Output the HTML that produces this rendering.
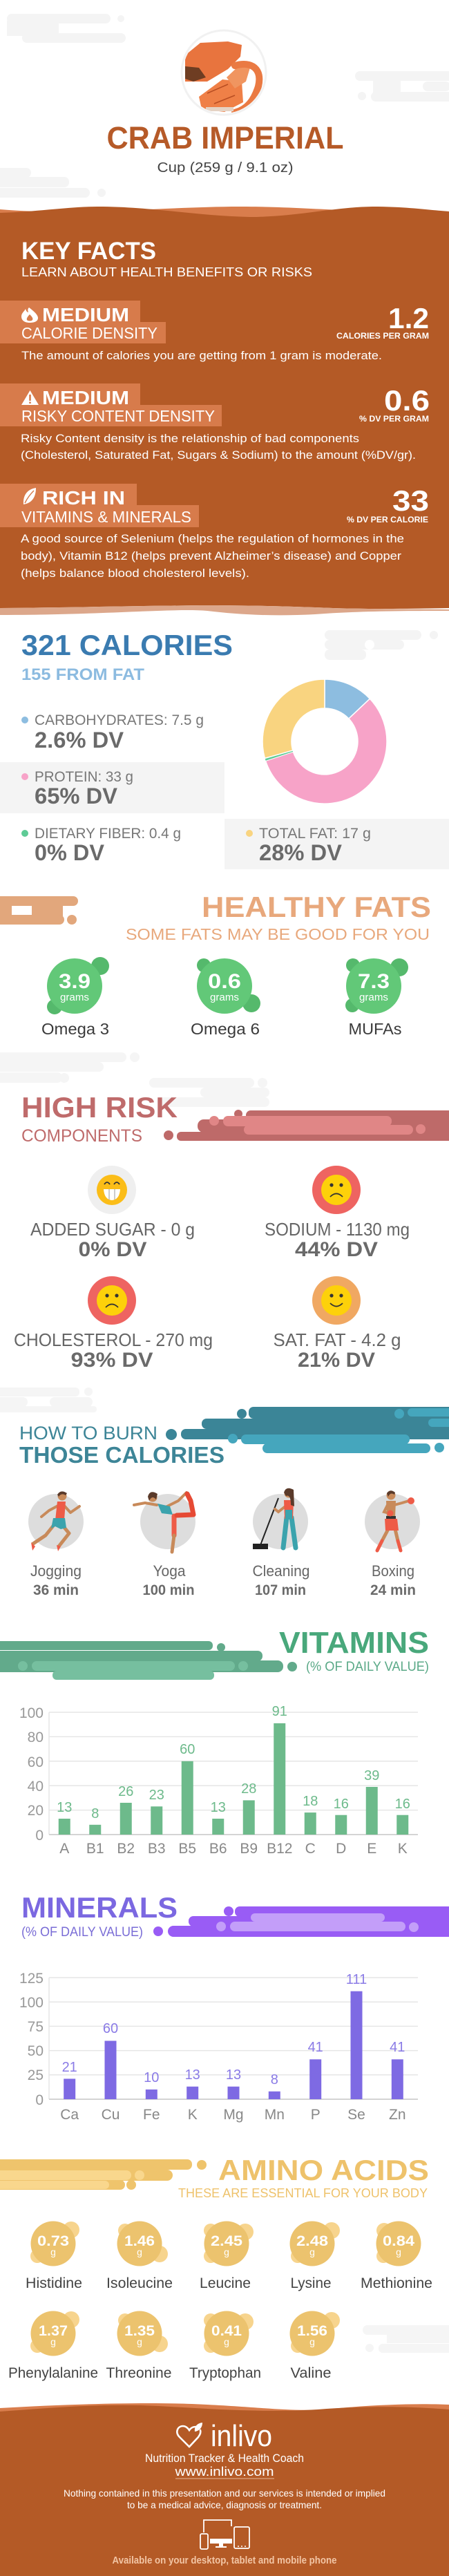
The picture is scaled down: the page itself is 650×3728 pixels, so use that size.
<!DOCTYPE html>
<html><head><meta charset="utf-8"><style>
html,body{margin:0;padding:0;background:#fff;}
svg{display:block;}
text{font-family:"Liberation Sans",Arial,sans-serif;}
.b{font-weight:bold;}
</style></head><body>
<svg width="650" height="3728" viewBox="0 0 650 3728" xmlns="http://www.w3.org/2000/svg">
<defs><clipPath id="crabclip"><circle cx="324" cy="105" r="59"/></clipPath></defs>
<rect width="650" height="3728" fill="#fff"/>

<!-- header clouds -->
<g fill="#f4f4f4">
<rect x="10" y="20" width="150" height="14" rx="7"/><circle cx="175" cy="27" r="5"/>
<rect x="10" y="30" width="75" height="22"/><rect x="32" y="48" width="150" height="14" rx="7"/>
<rect x="514" y="103" width="150" height="14" rx="7"/><rect x="540" y="114" width="40" height="20"/>
<rect x="612" y="118" width="40" height="14" rx="7"/><rect x="537" y="133" width="120" height="14" rx="7"/><circle cx="524" cy="139" r="6"/>
<rect x="-10" y="243" width="55" height="14" rx="7"/><rect x="-10" y="256" width="110" height="15" rx="7"/><rect x="-10" y="272" width="140" height="14" rx="7"/><circle cx="147" cy="279" r="6"/>
</g>

<!-- crab -->
<circle cx="324" cy="105" r="61" fill="#fff" stroke="#f1f1f1" stroke-width="3"/>
<g clip-path="url(#crabclip)">
<polygon points="268,80 290,62 330,60 350,65 348,82 330,100 300,118 268,118" fill="#e8743e"/>
<polygon points="268,96 288,98 298,112 280,118 268,114" fill="#6e3d22"/>
<polygon points="288,140 322,115 350,118 352,148 325,162 292,158" fill="#ef8047"/>
<polygon points="328,112 345,96 362,98 356,118 340,128" fill="#f09560"/>
<path d="M340,95 C365,88 380,100 374,125 C368,145 358,158 340,163" fill="none" stroke="#ea7a43" stroke-width="10" stroke-linecap="round"/>
<path d="M300,135 L330,122 M310,150 L340,138" stroke="#b84d22" stroke-width="1.5"/>
<rect x="298" y="155" width="40" height="6" fill="#e5d3c4"/>
</g>

<text x="326" y="215" class="b" font-size="45" fill="#b65a28" text-anchor="middle" textLength="343" lengthAdjust="spacingAndGlyphs">CRAB IMPERIAL</text>
<text x="326" y="249" font-size="20" fill="#444" text-anchor="middle" textLength="197" lengthAdjust="spacingAndGlyphs">Cup (259 g / 9.1 oz)</text>

<!-- brown key facts block -->
<path d="M0,303 C120,313 250,298 357,299 C450,300 480,306 560,304 L650,306 L650,330 L0,330 Z" fill="#d97d4c"/>
<path d="M0,308 C60,306 100,299 141,299 C220,299 280,312 361,314 C430,314 480,300 539,299 C590,299 620,304 650,306 L650,880 C600,881 520,882 456,879 C400,877 350,876 290,876 C200,877 100,879 0,880 Z" fill="#b45a26"/>
<path d="M0,880 C100,879 200,877 290,876 C350,876 400,877 456,879 C520,882 600,881 650,882 L650,884 C600,884 520,884 456,889 C400,892 350,890 300,884 C250,880 150,890 0,890 Z" fill="#dca78b"/>

<text x="31" y="375" class="b" font-size="35" fill="#fff" textLength="195" lengthAdjust="spacingAndGlyphs">KEY FACTS</text>
<text x="31" y="400" font-size="18.5" fill="#fff" textLength="421" lengthAdjust="spacingAndGlyphs">LEARN ABOUT HEALTH BENEFITS OR RISKS</text>

<!-- fact 1 -->
<rect x="0" y="435" width="203" height="32" fill="#d77b4b"/>
<rect x="0" y="466" width="240" height="31" fill="#d77b4b"/>
<path d="M42,445 C50,451 55,456 55,460 C55,465 50,467 43,467 C36,467 31,464 31,458 C31,453 35,451 37,447 C38,451 40,452 41,452 C40,449 40,447 42,445 Z" fill="#fff"/>
<path d="M43,455 C47,459 48,461 47,463 C46,465 40,465 39,463 C38,461 40,458 43,455 Z" fill="#d77b4b"/>
<text x="61" y="465" class="b" font-size="28" fill="#fff" textLength="126" lengthAdjust="spacingAndGlyphs">MEDIUM</text>
<text x="31" y="490" font-size="23" fill="#fff" textLength="197" lengthAdjust="spacingAndGlyphs">CALORIE DENSITY</text>
<text x="621" y="475" class="b" font-size="42" fill="#fff" text-anchor="end" textLength="59" lengthAdjust="spacingAndGlyphs">1.2</text>
<text x="621" y="490" class="b" font-size="12" fill="#fff" text-anchor="end" textLength="134" lengthAdjust="spacingAndGlyphs">CALORIES PER GRAM</text>
<text x="31" y="520" font-size="16.5" fill="#fff" textLength="522" lengthAdjust="spacingAndGlyphs">The amount of calories you are getting from 1 gram is moderate.</text>

<!-- fact 2 -->
<rect x="0" y="555" width="203" height="32" fill="#d77b4b"/>
<rect x="0" y="586" width="321" height="31" fill="#d77b4b"/>
<path d="M43.5,565 L56,586 L31,586 Z" fill="#fff"/>
<rect x="42.2" y="571" width="2.6" height="9" fill="#d77b4b"/><rect x="42.2" y="581.5" width="2.6" height="2.5" fill="#d77b4b"/>
<text x="61" y="585" class="b" font-size="28" fill="#fff" textLength="126" lengthAdjust="spacingAndGlyphs">MEDIUM</text>
<text x="31" y="610" font-size="23" fill="#fff" textLength="280" lengthAdjust="spacingAndGlyphs">RISKY CONTENT DENSITY</text>
<text x="622" y="594" class="b" font-size="42" fill="#fff" text-anchor="end" textLength="66" lengthAdjust="spacingAndGlyphs">0.6</text>
<text x="621" y="610" class="b" font-size="12" fill="#fff" text-anchor="end" textLength="101" lengthAdjust="spacingAndGlyphs">% DV PER GRAM</text>
<text x="30" y="640" font-size="16.5" fill="#fff" textLength="490" lengthAdjust="spacingAndGlyphs">Risky Content density is the relationship of bad components</text>
<text x="30" y="664" font-size="16.5" fill="#fff" textLength="572" lengthAdjust="spacingAndGlyphs">(Cholesterol, Saturated Fat, Sugars &amp; Sodium) to the amount (%DV/gr).</text>

<!-- fact 3 -->
<rect x="0" y="700" width="198" height="32" fill="#d77b4b"/>
<rect x="0" y="731" width="288" height="32" fill="#d77b4b"/>
<path d="M52,706 C40,708 33,716 34,730 C46,728 52,720 52,706 Z" fill="#fff"/>
<path d="M36,728 C40,720 44,715 49,710" stroke="#d77b4b" stroke-width="1.5" fill="none"/>
<text x="61" y="730" class="b" font-size="28" fill="#fff" textLength="120" lengthAdjust="spacingAndGlyphs">RICH  IN</text>
<text x="31" y="756" font-size="23" fill="#fff" textLength="246" lengthAdjust="spacingAndGlyphs">VITAMINS &amp; MINERALS</text>
<text x="621" y="739" class="b" font-size="42" fill="#fff" text-anchor="end" textLength="53" lengthAdjust="spacingAndGlyphs">33</text>
<text x="620" y="756" class="b" font-size="12" fill="#fff" text-anchor="end" textLength="118" lengthAdjust="spacingAndGlyphs">% DV PER CALORIE</text>
<text x="30" y="785" font-size="16.5" fill="#fff" textLength="555" lengthAdjust="spacingAndGlyphs">A good source of Selenium (helps the regulation of hormones in the</text>
<text x="30" y="810" font-size="16.5" fill="#fff" textLength="551" lengthAdjust="spacingAndGlyphs">body), Vitamin B12 (helps prevent Alzheimer’s disease) and Copper</text>
<text x="30" y="835" font-size="16.5" fill="#fff" textLength="331" lengthAdjust="spacingAndGlyphs">(helps balance blood cholesterol levels).</text>

<!-- calories -->
<g fill="#f4f4f4">
<rect x="470" y="912" width="140" height="14" rx="7"/><circle cx="628" cy="919" r="6"/>
<rect x="470" y="926" width="115" height="14" rx="7"/><rect x="470" y="940" width="60" height="15" rx="7"/>
</g>
<circle cx="535" cy="933" r="7" fill="#fff"/>
<text x="31" y="948" class="b" font-size="42" fill="#3a7bb0" textLength="306" lengthAdjust="spacingAndGlyphs">321 CALORIES</text>
<text x="31" y="984" class="b" font-size="24" fill="#8cbbe0" textLength="178" lengthAdjust="spacingAndGlyphs">155 FROM FAT</text>

<g stroke="#fff" stroke-width="1.5">
<path d="M470,983 A90,90 0 0 1 535.4,1011.2 L504.9,1040.0 A48,48 0 0 0 470,1025 Z" fill="#8dbde0"/>
<path d="M535.4,1011.2 A90,90 0 1 1 384.5,1101.1 L424.4,1088.0 A48,48 0 1 0 504.9,1040.0 Z" fill="#f7a3c8"/>
<path d="M384.5,1101.1 A90,90 0 0 1 383.4,1097.4 L423.8,1086.0 A48,48 0 0 0 424.4,1088.0 Z" fill="#5ecb96" stroke-width="0.5"/>
<path d="M383.4,1097.4 A90,90 0 0 1 470,983 L470,1025 A48,48 0 0 0 423.8,1086.0 Z" fill="#f9d480"/>
</g>

<rect x="0" y="1103" width="325" height="74" fill="#f4f4f4"/>
<rect x="325" y="1185" width="325" height="73" fill="#f4f4f4"/>
<circle cx="36" cy="1042" r="5" fill="#8dbde0"/>
<text x="50" y="1049" font-size="21" fill="#777" textLength="245" lengthAdjust="spacingAndGlyphs">CARBOHYDRATES: 7.5 g</text>
<text x="50" y="1082" class="b" font-size="32" fill="#6a6a6a" textLength="129" lengthAdjust="spacingAndGlyphs">2.6% DV</text>
<circle cx="36" cy="1124" r="5" fill="#f7a3c8"/>
<text x="50" y="1131" font-size="21" fill="#777" textLength="143" lengthAdjust="spacingAndGlyphs">PROTEIN: 33 g</text>
<text x="50" y="1163" class="b" font-size="32" fill="#6a6a6a" textLength="120" lengthAdjust="spacingAndGlyphs">65% DV</text>
<circle cx="36" cy="1206" r="5" fill="#5ecb96"/>
<text x="50" y="1213" font-size="21" fill="#777" textLength="212" lengthAdjust="spacingAndGlyphs">DIETARY FIBER: 0.4 g</text>
<text x="50" y="1245" class="b" font-size="32" fill="#6a6a6a" textLength="101" lengthAdjust="spacingAndGlyphs">0% DV</text>
<circle cx="361" cy="1206" r="5" fill="#f9d480"/>
<text x="375" y="1213" font-size="21" fill="#777" textLength="162" lengthAdjust="spacingAndGlyphs">TOTAL FAT: 17 g</text>
<text x="375" y="1245" class="b" font-size="32" fill="#6a6a6a" textLength="120" lengthAdjust="spacingAndGlyphs">28% DV</text>

<!-- healthy fats -->
<g fill="#e2a77c">
<rect x="-10" y="1297" width="123" height="14" rx="7"/><rect x="0" y="1308" width="17" height="18"/>
<rect x="46" y="1308" width="45" height="18"/><rect x="-10" y="1324" width="103" height="14" rx="7"/><circle cx="104" cy="1331" r="7"/>
</g>
<text x="624" y="1327" class="b" font-size="42" fill="#e8a87c" text-anchor="end" textLength="332" lengthAdjust="spacingAndGlyphs">HEALTHY FATS</text>
<text x="622" y="1360" font-size="23" fill="#e8a87c" text-anchor="end" textLength="440" lengthAdjust="spacingAndGlyphs">SOME FATS MAY BE GOOD FOR YOU</text>

<g fill="#55b96c">
<circle cx="145" cy="1398" r="13"/><circle cx="79" cy="1457" r="11"/>
<circle cx="295" cy="1397" r="10"/><circle cx="364" cy="1452" r="13"/>
<circle cx="511" cy="1397" r="10"/><circle cx="578" cy="1400" r="13"/><circle cx="510" cy="1455" r="10"/>
</g>
<g fill="#62c878">
<circle cx="108" cy="1427" r="40"/><circle cx="325" cy="1427" r="40"/><circle cx="541" cy="1427" r="40"/>
</g>
<g fill="#fff" text-anchor="middle">
<text x="108" y="1430" class="b" font-size="30" textLength="46" lengthAdjust="spacingAndGlyphs">3.9</text>
<text x="108" y="1448" font-size="15" textLength="42" lengthAdjust="spacingAndGlyphs">grams</text>
<text x="325" y="1430" class="b" font-size="30" textLength="48" lengthAdjust="spacingAndGlyphs">0.6</text>
<text x="325" y="1448" font-size="15" textLength="42" lengthAdjust="spacingAndGlyphs">grams</text>
<text x="541" y="1430" class="b" font-size="30" textLength="46" lengthAdjust="spacingAndGlyphs">7.3</text>
<text x="541" y="1448" font-size="15" textLength="42" lengthAdjust="spacingAndGlyphs">grams</text>
</g>
<g fill="#3a3a3a" text-anchor="middle" font-size="23">
<text x="109" y="1497" textLength="98" lengthAdjust="spacingAndGlyphs">Omega 3</text>
<text x="326" y="1497" textLength="100" lengthAdjust="spacingAndGlyphs">Omega 6</text>
<text x="543" y="1497" textLength="77" lengthAdjust="spacingAndGlyphs">MUFAs</text>
</g>

<!-- high risk -->
<g fill="#f5f5f5">
<rect x="-10" y="1523" width="193" height="14" rx="7"/><circle cx="195" cy="1530" r="7"/>
<rect x="-10" y="1537" width="160" height="14" rx="7"/><rect x="-10" y="1552" width="100" height="15" rx="7"/><circle cx="93" cy="1560" r="7"/>
<rect x="216" y="1560" width="152" height="14" rx="7"/><circle cx="380" cy="1567" r="7"/>
<rect x="290" y="1574" width="100" height="14" rx="7"/><rect x="230" y="1588" width="160" height="14" rx="7"/>
</g>
<g fill="#be6a69">
<rect x="356" y="1607" width="310" height="14" rx="7"/><circle cx="345" cy="1612" r="6"/>
<rect x="286" y="1620" width="380" height="19" rx="9"/><rect x="256" y="1638" width="410" height="13" rx="6"/>
<circle cx="244" cy="1643" r="7"/>
</g>
<g fill="#e08686">
<rect x="323" y="1615" width="244" height="15" rx="7"/><circle cx="310" cy="1622" r="7"/>
<rect x="353" y="1628" width="245" height="14" rx="7"/><circle cx="609" cy="1634" r="7"/>
</g>
<text x="31" y="1617" class="b" font-size="42" fill="#bf6b6b" textLength="226" lengthAdjust="spacingAndGlyphs">HIGH RISK</text>
<text x="31" y="1652" font-size="25" fill="#bf6b6b" textLength="175" lengthAdjust="spacingAndGlyphs">COMPONENTS</text>

<!-- smileys -->
<circle cx="162" cy="1722" r="35" fill="#efefef"/>
<circle cx="162" cy="1722" r="22" fill="#fbbd18"/>
<path d="M151,1714 Q155,1708 159,1714 M165,1714 Q169,1708 173,1714" stroke="#333" stroke-width="1.8" fill="none"/>
<path d="M150,1721 L174,1721 Q173,1736 162,1737 Q151,1736 150,1721 Z" fill="#fff"/>
<path d="M158,1721 L158,1736 M166,1721 L166,1736" stroke="#bbb" stroke-width="1.5"/>

<circle cx="487" cy="1722" r="35" fill="#ee6461"/>
<circle cx="487" cy="1722" r="22" fill="#fdd10a"/>
<circle cx="480" cy="1715" r="2.6" fill="#333"/><circle cx="494" cy="1715" r="2.6" fill="#333"/>
<path d="M478,1732 Q487,1723 496,1732" stroke="#333" stroke-width="1.8" fill="none"/>

<circle cx="162" cy="1882" r="35" fill="#ee6461"/>
<circle cx="162" cy="1882" r="22" fill="#fdd10a"/>
<circle cx="155" cy="1875" r="2.6" fill="#333"/><circle cx="169" cy="1875" r="2.6" fill="#333"/>
<path d="M153,1892 Q162,1883 171,1892" stroke="#333" stroke-width="1.8" fill="none"/>

<circle cx="487" cy="1882" r="35" fill="#f0a862"/>
<circle cx="487" cy="1882" r="22" fill="#fdd10a"/>
<circle cx="480" cy="1875" r="2.6" fill="#333"/><circle cx="494" cy="1875" r="2.6" fill="#333"/>
<path d="M478,1886 Q487,1895 496,1886" stroke="#333" stroke-width="1.8" fill="none"/>

<g text-anchor="middle">
<text x="163" y="1788" font-size="26" fill="#666" textLength="238" lengthAdjust="spacingAndGlyphs">ADDED SUGAR - 0 g</text>
<text x="163" y="1818" class="b" font-size="30" fill="#6a6a6a" textLength="99" lengthAdjust="spacingAndGlyphs">0% DV</text>
<text x="488" y="1788" font-size="26" fill="#666" textLength="210" lengthAdjust="spacingAndGlyphs">SODIUM - 1130 mg</text>
<text x="487" y="1818" class="b" font-size="30" fill="#6a6a6a" textLength="120" lengthAdjust="spacingAndGlyphs">44% DV</text>
<text x="164" y="1948" font-size="26" fill="#666" textLength="288" lengthAdjust="spacingAndGlyphs">CHOLESTEROL - 270 mg</text>
<text x="162" y="1978" class="b" font-size="30" fill="#6a6a6a" textLength="119" lengthAdjust="spacingAndGlyphs">93% DV</text>
<text x="488" y="1948" font-size="26" fill="#666" textLength="185" lengthAdjust="spacingAndGlyphs">SAT. FAT - 4.2 g</text>
<text x="487" y="1978" class="b" font-size="30" fill="#6a6a6a" textLength="112" lengthAdjust="spacingAndGlyphs">21% DV</text>
</g>

<g fill="#f5f5f5">
<rect x="-10" y="2008" width="125" height="13" rx="6"/><circle cx="128" cy="2014" r="6"/>
<rect x="-10" y="2022" width="50" height="14" rx="7"/><rect x="72" y="2022" width="62" height="14" rx="7"/>
<rect x="-10" y="2035" width="150" height="9" rx="4"/>
</g>

<!-- burn calories -->
<g fill="#3b8597">
<circle cx="350" cy="2046" r="7"/><rect x="360" y="2036" width="300" height="17" rx="7"/>
<rect x="292" y="2053" width="370" height="15" rx="7"/><rect x="262" y="2068" width="400" height="15" rx="7"/>
<circle cx="248" cy="2076" r="8"/>
</g>
<g fill="#45a6bd">
<circle cx="578" cy="2046" r="7"/><rect x="590" y="2038" width="70" height="12" rx="6"/>
<rect x="620" y="2053" width="40" height="12" rx="6"/>
<circle cx="337" cy="2082" r="7"/><rect x="349" y="2076" width="244" height="14" rx="7"/>
<rect x="380" y="2089" width="243" height="14" rx="7"/><circle cx="636" cy="2095" r="7"/>
</g>
<text x="28" y="2083" font-size="27" fill="#3d8597" textLength="200" lengthAdjust="spacingAndGlyphs">HOW TO BURN</text>
<text x="28" y="2117" class="b" font-size="33" fill="#3d8597" textLength="297" lengthAdjust="spacingAndGlyphs">THOSE CALORIES</text>

<g fill="#dddddd">
<circle cx="81" cy="2202" r="40"/><circle cx="243" cy="2202" r="40"/><circle cx="406" cy="2202" r="40"/><circle cx="568" cy="2202" r="40"/>
</g>
<!-- jogging -->
<g stroke-linecap="round" stroke-linejoin="round" fill="none">
<path d="M78,2207 L66,2222 L48,2234" stroke="#c88a5a" stroke-width="5"/>
<path d="M90,2207 L100,2219 L85,2238" stroke="#c88a5a" stroke-width="5"/>
<path d="M86,2178 L71,2186 L60,2195" stroke="#c88a5a" stroke-width="4"/>
<path d="M92,2178 L102,2189 L115,2180" stroke="#c88a5a" stroke-width="4"/>
</g>
<path d="M45,2232 L51,2238 L47,2244 Z" fill="#ee5b47"/><path d="M82,2236 L88,2238 L84,2245 Z" fill="#ee5b47"/>
<polygon points="83,2173 95,2173 93,2200 80,2200" fill="#ee5b47"/>
<polygon points="77,2197 94,2197 96,2211 88,2213 80,2209 74,2212" fill="#3ba3ad"/>
<circle cx="90" cy="2165" r="6.5" fill="#c88a5a"/><path d="M83,2163 Q88,2155 97,2161 L95,2164 Q89,2160 85,2166 Z" fill="#5a3a2a"/>
<!-- yoga -->
<g stroke-linecap="round" stroke-linejoin="round" fill="none">
<path d="M227,2178 L210,2175 L194,2178" stroke="#c88a5a" stroke-width="4"/>
<path d="M240,2181 L258,2172 L270,2160" stroke="#c88a5a" stroke-width="4"/>
<path d="M252,2194 L252,2222" stroke="#ee5b47" stroke-width="7"/>
<path d="M252,2222 L249,2246" stroke="#c88a5a" stroke-width="5"/>
<path d="M256,2193 L280,2192 L276,2172 L271,2162" stroke="#e64a34" stroke-width="7"/>
</g>
<polygon points="228,2176 246,2180 250,2192 234,2190" fill="#3ba3ad"/>
<circle cx="221" cy="2167" r="6.5" fill="#c88a5a"/><path d="M214,2166 Q217,2155 228,2162 L226,2170 Q220,2163 216,2172 Z" fill="#5a3a2a"/>
<!-- cleaning -->
<path d="M403,2168 L377,2236" stroke="#222" stroke-width="2"/>
<rect x="366" y="2234" width="22" height="8" fill="#222"/>
<g stroke-linecap="round" fill="none">
<path d="M413,2180 L403,2188 L398,2184" stroke="#c88a5a" stroke-width="4"/>
<path d="M415,2196 L410,2240" stroke="#3ba3ad" stroke-width="7"/>
<path d="M422,2196 L428,2240" stroke="#3ba3ad" stroke-width="7"/>
</g>
<polygon points="411,2171 425,2171 424,2198 412,2198" fill="#ee5b47"/>
<rect x="413" y="2185" width="10" height="14" fill="#3ba3ad"/>
<circle cx="418" cy="2161" r="6.5" fill="#c88a5a"/><path d="M411,2160 Q414,2150 425,2156 L426,2180 L421,2178 Q421,2162 414,2165 Z" fill="#5a3a2a"/>
<!-- boxing -->
<g stroke-linecap="round" fill="none">
<path d="M571,2178 L582,2175 L592,2172" stroke="#c88a5a" stroke-width="4"/>
<path d="M561,2178 L556,2188 L563,2190" stroke="#c88a5a" stroke-width="4"/>
<path d="M562,2213 L553,2230" stroke="#c88a5a" stroke-width="5"/>
<path d="M553,2230 L546,2244" stroke="#ee5b47" stroke-width="5"/>
<path d="M572,2213 L576,2230" stroke="#c88a5a" stroke-width="5"/>
<path d="M576,2230 L580,2244" stroke="#ee5b47" stroke-width="5"/>
</g>
<polygon points="559,2172 573,2172 572,2196 560,2196" fill="#c88a5a"/>
<rect x="559" y="2194" width="14" height="4" fill="#333"/>
<polygon points="557,2198 575,2198 577,2215 558,2215" fill="#ee5b47"/>
<circle cx="595" cy="2172" r="5" fill="#ee5b47"/><circle cx="565" cy="2190" r="4.5" fill="#ee5b47"/>
<circle cx="566" cy="2164" r="6.5" fill="#c88a5a"/><path d="M560,2161 Q565,2154 572,2160 L571,2163 Q565,2159 562,2166 Z" fill="#5a3a2a"/>

<g text-anchor="middle">
<text x="81" y="2281" font-size="22" fill="#666" textLength="74" lengthAdjust="spacingAndGlyphs">Jogging</text>
<text x="81" y="2308" class="b" font-size="21" fill="#6a6a6a" textLength="66" lengthAdjust="spacingAndGlyphs">36 min</text>
<text x="245" y="2281" font-size="22" fill="#666" textLength="47" lengthAdjust="spacingAndGlyphs">Yoga</text>
<text x="244" y="2308" class="b" font-size="21" fill="#6a6a6a" textLength="75" lengthAdjust="spacingAndGlyphs">100 min</text>
<text x="407" y="2281" font-size="22" fill="#666" textLength="83" lengthAdjust="spacingAndGlyphs">Cleaning</text>
<text x="406" y="2308" class="b" font-size="21" fill="#6a6a6a" textLength="74" lengthAdjust="spacingAndGlyphs">107 min</text>
<text x="569" y="2281" font-size="22" fill="#666" textLength="62" lengthAdjust="spacingAndGlyphs">Boxing</text>
<text x="569" y="2308" class="b" font-size="21" fill="#6a6a6a" textLength="66" lengthAdjust="spacingAndGlyphs">24 min</text>
</g>

<!-- vitamins -->
<g fill="#62aa8b">
<rect x="-10" y="2375" width="318" height="13" rx="6"/><circle cx="320" cy="2384" r="6"/>
<rect x="-10" y="2389" width="390" height="15" rx="7"/><rect x="-10" y="2403" width="420" height="17" rx="8"/>
<circle cx="423" cy="2412" r="7"/>
</g>
<g fill="#76bf9f">
<circle cx="33" cy="2411" r="7"/><rect x="46" y="2404" width="294" height="14" rx="7"/><circle cx="352" cy="2411" r="7"/>
<rect x="76" y="2418" width="234" height="13" rx="6"/>
</g>
<text x="621" y="2392" class="b" font-size="44" fill="#49a87b" text-anchor="end" textLength="217" lengthAdjust="spacingAndGlyphs">VITAMINS</text>
<text x="621" y="2418" font-size="19" fill="#5aa987" text-anchor="end" textLength="178" lengthAdjust="spacingAndGlyphs">(% OF DAILY VALUE)</text>

<g stroke="#e6e6e6" stroke-width="1.5">
<line x1="71" y1="2478" x2="605" y2="2478"/><line x1="71" y1="2513.4" x2="605" y2="2513.4"/>
<line x1="71" y1="2548.8" x2="605" y2="2548.8"/><line x1="71" y1="2584.2" x2="605" y2="2584.2"/>
<line x1="71" y1="2619.6" x2="605" y2="2619.6"/><line x1="71" y1="2478" x2="71" y2="2655"/>
</g>
<line x1="71" y1="2655" x2="605" y2="2655" stroke="#d4d4d4" stroke-width="2"/>
<g font-size="21" fill="#999" text-anchor="end">
<text x="63" y="2486">100</text><text x="63" y="2521">80</text><text x="63" y="2557">60</text>
<text x="63" y="2592">40</text><text x="63" y="2627">20</text><text x="63" y="2663">0</text>
</g>
<g fill="#6dba8b">
<rect x="84.75" y="2632" width="17" height="23"/>
<rect x="129.25" y="2640.8" width="17" height="14.2"/>
<rect x="173.75" y="2609" width="17" height="46"/>
<rect x="218.25" y="2614.3" width="17" height="40.7"/>
<rect x="262.75" y="2548.8" width="17" height="106.2"/>
<rect x="307.25" y="2632" width="17" height="23"/>
<rect x="351.75" y="2605.4" width="17" height="49.6"/>
<rect x="396.25" y="2493.9" width="17" height="161.1"/>
<rect x="440.75" y="2623.1" width="17" height="31.9"/>
<rect x="485.25" y="2626.7" width="17" height="28.3"/>
<rect x="529.75" y="2586" width="17" height="69"/>
<rect x="574.25" y="2626.7" width="17" height="28.3"/>
</g>
<g font-size="20" fill="#6dba8b" text-anchor="middle">
<text x="93.25" y="2622">13</text><text x="137.75" y="2631">8</text><text x="182.25" y="2599">26</text>
<text x="226.75" y="2604">23</text><text x="271.25" y="2538">60</text><text x="315.75" y="2622">13</text>
<text x="360.25" y="2595">28</text><text x="404.75" y="2483">91</text><text x="449.25" y="2613">18</text>
<text x="493.75" y="2617">16</text><text x="538.25" y="2576">39</text><text x="582.75" y="2617">16</text>
</g>
<g font-size="21" fill="#888" text-anchor="middle">
<text x="93.25" y="2682">A</text><text x="137.75" y="2682">B1</text><text x="182.25" y="2682">B2</text>
<text x="226.75" y="2682">B3</text><text x="271.25" y="2682">B5</text><text x="315.75" y="2682">B6</text>
<text x="360.25" y="2682">B9</text><text x="404.75" y="2682">B12</text><text x="449.25" y="2682">C</text>
<text x="493.75" y="2682">D</text><text x="538.25" y="2682">E</text><text x="582.75" y="2682">K</text>
</g>

<!-- minerals -->
<g fill="#995cf5">
<circle cx="331" cy="2766" r="7"/><rect x="340" y="2759" width="320" height="15" rx="7"/>
<rect x="273" y="2773" width="390" height="15" rx="7"/><rect x="243" y="2787" width="420" height="16" rx="8"/>
<circle cx="229" cy="2795" r="7"/>
</g>
<g fill="#c39ef9">
<rect x="363" y="2769" width="194" height="12" rx="6"/><circle cx="320" cy="2788" r="7"/>
<rect x="333" y="2781" width="254" height="14" rx="7"/><circle cx="599" cy="2789" r="7"/>
</g>
<text x="31" y="2775" class="b" font-size="42" fill="#7b68e1" textLength="226" lengthAdjust="spacingAndGlyphs">MINERALS</text>
<text x="31" y="2802" font-size="19" fill="#7a6dd6" textLength="176" lengthAdjust="spacingAndGlyphs">(% OF DAILY VALUE)</text>

<g stroke="#e6e6e6" stroke-width="1.5">
<line x1="71" y1="2862" x2="605" y2="2862"/><line x1="71" y1="2897.2" x2="605" y2="2897.2"/>
<line x1="71" y1="2932.4" x2="605" y2="2932.4"/><line x1="71" y1="2967.6" x2="605" y2="2967.6"/>
<line x1="71" y1="3002.8" x2="605" y2="3002.8"/><line x1="71" y1="2862" x2="71" y2="3038"/>
</g>
<line x1="71" y1="3038" x2="605" y2="3038" stroke="#d4d4d4" stroke-width="2"/>
<g font-size="21" fill="#999" text-anchor="end">
<text x="63" y="2870">125</text><text x="63" y="2905">100</text><text x="63" y="2940">75</text>
<text x="63" y="2975">50</text><text x="63" y="3010">25</text><text x="63" y="3046">0</text>
</g>
<g fill="#7e6ae3">
<rect x="92.2" y="3008.4" width="17" height="29.6"/>
<rect x="151.5" y="2953.5" width="17" height="84.5"/>
<rect x="210.8" y="3023.9" width="17" height="14.1"/>
<rect x="270.2" y="3019.7" width="17" height="18.3"/>
<rect x="329.5" y="3019.7" width="17" height="18.3"/>
<rect x="388.8" y="3026.7" width="17" height="11.3"/>
<rect x="448.2" y="2980.3" width="17" height="57.7"/>
<rect x="507.5" y="2881.7" width="17" height="156.3"/>
<rect x="566.8" y="2980.3" width="17" height="57.7"/>
</g>
<g font-size="20" fill="#8a7be6" text-anchor="middle">
<text x="100.7" y="2998">21</text><text x="160" y="2942">60</text><text x="219.3" y="3013">10</text>
<text x="278.7" y="3009">13</text><text x="338" y="3009">13</text><text x="397.3" y="3016">8</text>
<text x="456.7" y="2969">41</text><text x="516" y="2871">111</text><text x="575.3" y="2969">41</text>
</g>
<g font-size="21" fill="#888" text-anchor="middle">
<text x="100.7" y="3067">Ca</text><text x="160" y="3067">Cu</text><text x="219.3" y="3067">Fe</text>
<text x="278.7" y="3067">K</text><text x="338" y="3067">Mg</text><text x="397.3" y="3067">Mn</text>
<text x="456.7" y="3067">P</text><text x="516" y="3067">Se</text><text x="575.3" y="3067">Zn</text>
</g>

<!-- amino acids -->
<g fill="#efc46c">
<rect x="-10" y="3125" width="288" height="15" rx="7"/><circle cx="292" cy="3133" r="7"/>
<rect x="-10" y="3140" width="260" height="16" rx="8"/><rect x="-10" y="3155" width="191" height="14" rx="7"/>
<circle cx="190" cy="3162" r="7"/>
</g>
<g fill="#f9d78d">
<rect x="-10" y="3141" width="200" height="14" rx="7"/><circle cx="202" cy="3148" r="7"/>
<rect x="-10" y="3156" width="168" height="12" rx="6"/>
</g>
<text x="621" y="3155" class="b" font-size="42" fill="#eec26b" text-anchor="end" textLength="305" lengthAdjust="spacingAndGlyphs">AMINO ACIDS</text>
<text x="619" y="3180" font-size="18.5" fill="#eec26b" text-anchor="end" textLength="361" lengthAdjust="spacingAndGlyphs">THESE ARE ESSENTIAL FOR YOUR BODY</text>

<g fill="#f7d48d">
<circle cx="103" cy="3227" r="12"/><circle cx="54" cy="3265" r="10"/>
<circle cx="181" cy="3228" r="10"/><circle cx="231" cy="3262" r="12"/>
<circle cx="305" cy="3228" r="10"/><circle cx="355" cy="3230" r="12"/><circle cx="305" cy="3265" r="10"/>
<circle cx="480" cy="3228" r="12"/><circle cx="431" cy="3265" r="10"/>
<circle cx="556" cy="3228" r="11"/><circle cx="555" cy="3265" r="10"/>
<circle cx="103" cy="3357" r="12"/><circle cx="54" cy="3395" r="10"/>
<circle cx="181" cy="3358" r="10"/><circle cx="231" cy="3392" r="12"/>
<circle cx="305" cy="3358" r="10"/><circle cx="355" cy="3360" r="12"/><circle cx="305" cy="3395" r="10"/>
<circle cx="480" cy="3358" r="12"/><circle cx="431" cy="3395" r="10"/>
</g>
<g fill="#ecc36e">
<circle cx="77" cy="3247" r="32.5"/><circle cx="202" cy="3247" r="32.5"/><circle cx="328" cy="3247" r="32.5"/>
<circle cx="452" cy="3247" r="32.5"/><circle cx="577" cy="3247" r="32.5"/>
<circle cx="77" cy="3377" r="32.5"/><circle cx="202" cy="3377" r="32.5"/><circle cx="328" cy="3377" r="32.5"/>
<circle cx="452" cy="3377" r="32.5"/>
</g>
<g fill="#fff" text-anchor="middle">
<g class="b" font-size="21">
<text x="77" y="3250" textLength="46" lengthAdjust="spacingAndGlyphs">0.73</text>
<text x="202" y="3250" textLength="44" lengthAdjust="spacingAndGlyphs">1.46</text>
<text x="328" y="3250" textLength="46" lengthAdjust="spacingAndGlyphs">2.45</text>
<text x="452" y="3250" textLength="46" lengthAdjust="spacingAndGlyphs">2.48</text>
<text x="577" y="3250" textLength="46" lengthAdjust="spacingAndGlyphs">0.84</text>
<text x="77" y="3380" textLength="42" lengthAdjust="spacingAndGlyphs">1.37</text>
<text x="202" y="3380" textLength="44" lengthAdjust="spacingAndGlyphs">1.35</text>
<text x="328" y="3380" textLength="44" lengthAdjust="spacingAndGlyphs">0.41</text>
<text x="452" y="3380" textLength="44" lengthAdjust="spacingAndGlyphs">1.56</text>
</g>
<g font-size="14">
<text x="77" y="3264">g</text><text x="202" y="3264">g</text><text x="328" y="3264">g</text><text x="452" y="3264">g</text><text x="577" y="3264">g</text>
<text x="77" y="3394">g</text><text x="202" y="3394">g</text><text x="328" y="3394">g</text><text x="452" y="3394">g</text>
</g>
</g>
<g font-size="21" fill="#444" text-anchor="middle">
<text x="78" y="3311" textLength="82" lengthAdjust="spacingAndGlyphs">Histidine</text>
<text x="202" y="3311" textLength="96" lengthAdjust="spacingAndGlyphs">Isoleucine</text>
<text x="326" y="3311" textLength="74" lengthAdjust="spacingAndGlyphs">Leucine</text>
<text x="450" y="3311" textLength="59" lengthAdjust="spacingAndGlyphs">Lysine</text>
<text x="574" y="3311" textLength="104" lengthAdjust="spacingAndGlyphs">Methionine</text>
<text x="77" y="3441" textLength="130" lengthAdjust="spacingAndGlyphs">Phenylalanine</text>
<text x="201" y="3441" textLength="95" lengthAdjust="spacingAndGlyphs">Threonine</text>
<text x="326" y="3441" textLength="104" lengthAdjust="spacingAndGlyphs">Tryptophan</text>
<text x="450" y="3441" textLength="59" lengthAdjust="spacingAndGlyphs">Valine</text>
</g>
<g fill="#f5f5f5">
<rect x="525" y="3365" width="140" height="14" rx="7"/><rect x="560" y="3378" width="100" height="13"/>
<circle cx="535" cy="3398" r="6"/><rect x="548" y="3392" width="112" height="13" rx="6"/>
</g>

<!-- footer -->
<path d="M0,3485 C120,3478 230,3476 300,3480 C380,3484 420,3490 470,3487 C540,3480 600,3478 650,3480 L650,3500 L0,3500 Z" fill="#d97d4c"/>
<path d="M0,3490 C80,3484 150,3478 230,3482 C300,3486 380,3492 460,3487 C540,3481 600,3483 650,3487 L650,3728 L0,3728 Z" fill="#b45a26"/>

<path d="M274,3541 L260,3527 C253,3520 257,3511 265,3511 C269,3511 272,3514 274,3517 C276,3514 279,3512 283,3512" fill="none" stroke="#fff" stroke-width="2.6" stroke-linecap="round"/>
<path d="M274,3541 L287,3527 C290,3523 291,3520 290,3517" fill="none" stroke="#fff" stroke-width="2.6" stroke-linecap="round"/>
<path d="M293,3506 C285,3507 281,3512 282,3519 C289,3518 293,3513 293,3506 Z" fill="#fff"/>
<text x="305" y="3540" font-size="44" fill="#fff" textLength="89" lengthAdjust="spacingAndGlyphs">inlivo</text>
<text x="325" y="3563" font-size="17" fill="#fff" text-anchor="middle" textLength="230" lengthAdjust="spacingAndGlyphs">Nutrition Tracker &amp; Health Coach</text>
<text x="325" y="3583" font-size="18" fill="#fff" text-anchor="middle" textLength="143" lengthAdjust="spacingAndGlyphs">www.inlivo.com</text>
<line x1="254" y1="3587" x2="397" y2="3587" stroke="#e9b89a" stroke-width="1"/>
<text x="325" y="3613" font-size="14" fill="#fff" text-anchor="middle" textLength="466" lengthAdjust="spacingAndGlyphs">Nothing contained in this presentation and our services is intended or implied</text>
<text x="325" y="3630" font-size="14" fill="#fff" text-anchor="middle" textLength="282" lengthAdjust="spacingAndGlyphs">to be a medical advice, diagnosis or treatment.</text>

<g fill="none" stroke="#fff" stroke-width="1.8">
<path d="M295,3665 L295,3647 L335,3647 L335,3656"/>
<rect x="290" y="3667" width="11" height="22" rx="2"/>
<rect x="339" y="3657" width="22" height="31" rx="2"/>
</g>
<rect x="304" y="3674" width="32" height="7" fill="#fff"/>
<rect x="317" y="3681" width="6" height="5" fill="#fff"/><rect x="312" y="3685" width="16" height="2" fill="#fff"/>
<circle cx="345" cy="3685" r="1" fill="#fff"/><circle cx="350" cy="3685" r="1" fill="#fff"/><circle cx="355" cy="3685" r="1" fill="#fff"/>
<text x="325" y="3710" class="b" font-size="15" fill="#f2c5a5" text-anchor="middle" textLength="325" lengthAdjust="spacingAndGlyphs">Available on your desktop, tablet and mobile phone</text>
</svg>
</body></html>
